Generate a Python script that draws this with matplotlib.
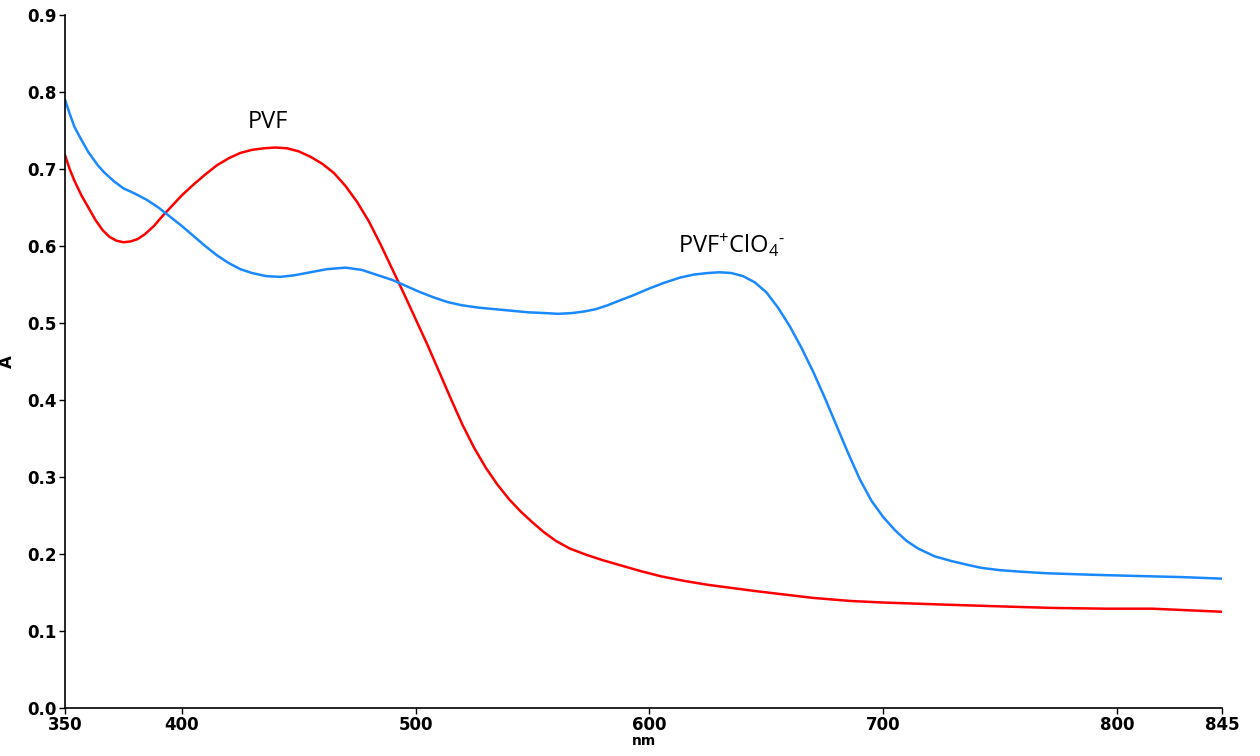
import matplotlib
matplotlib.use("Agg")
import matplotlib.pyplot as plt

plt.rcParams["mathtext.fontset"] = "custom"
plt.rcParams["mathtext.rm"] = "Open Sans"
plt.rcParams["mathtext.it"] = "Open Sans"

# absorbance spectra, wavelength in nm
pvf_nm = [350, 352, 354, 357, 360, 363, 366, 369, 372, 375, 378, 381, 384, 388,
          392, 396, 400, 405, 410, 415, 420, 425, 430, 435, 440, 445, 450, 455,
          460, 465, 470, 475, 480, 485, 490, 495, 500, 505, 510, 515, 520, 525,
          530, 535, 540, 545, 550, 555, 560, 566, 573, 580, 588, 596, 605, 615,
          625, 635, 645, 656, 670, 686, 700, 729, 750, 772, 795, 815, 830, 845]
pvf_a = [0.718, 0.700, 0.685, 0.666, 0.650, 0.634, 0.621, 0.612, 0.607, 0.605,
         0.606, 0.609, 0.615, 0.626, 0.640, 0.653, 0.666, 0.680, 0.693, 0.705,
         0.714, 0.721, 0.725, 0.727, 0.728, 0.727, 0.723, 0.716, 0.707, 0.695,
         0.678, 0.657, 0.632, 0.602, 0.570, 0.538, 0.505, 0.472, 0.437, 0.402,
         0.368, 0.338, 0.312, 0.290, 0.271, 0.255, 0.241, 0.228, 0.217, 0.207,
         0.199, 0.192, 0.185, 0.178, 0.171, 0.165, 0.160, 0.156, 0.152, 0.148,
         0.143, 0.139, 0.137, 0.134, 0.132, 0.130, 0.129, 0.129, 0.127, 0.125]

pvf_ox_nm = [350, 352, 354, 357, 360, 364, 367, 371, 375, 380, 385, 390, 395,
             400, 405, 410, 415, 420, 425, 430, 436, 442, 448, 455, 462, 470,
             477, 484, 490, 496, 502, 508, 514, 520, 527, 534, 541, 548, 555,
             561, 567, 572, 577, 582, 587, 593, 600, 606, 613, 619, 625, 630,
             635, 640, 645, 650, 655, 660, 665, 670, 675, 680, 685, 690, 695,
             700, 705, 710, 715, 722, 729, 736, 742, 750, 759, 770, 780, 790,
             802, 815, 828, 845]
pvf_ox_a = [0.790, 0.772, 0.755, 0.738, 0.722, 0.705, 0.695, 0.684, 0.675, 0.668,
            0.660, 0.650, 0.638, 0.626, 0.613, 0.600, 0.588, 0.578, 0.570, 0.565,
            0.561, 0.560, 0.562, 0.566, 0.570, 0.572, 0.569, 0.562, 0.556, 0.548,
            0.540, 0.533, 0.527, 0.523, 0.520, 0.518, 0.516, 0.514, 0.513, 0.512,
            0.513, 0.515, 0.518, 0.523, 0.529, 0.536, 0.545, 0.552, 0.559, 0.563,
            0.565, 0.566, 0.565, 0.561, 0.553, 0.540, 0.520, 0.496, 0.468, 0.437,
            0.403, 0.367, 0.331, 0.297, 0.269, 0.248, 0.231, 0.217, 0.207, 0.197,
            0.191, 0.186, 0.182, 0.179, 0.177, 0.175, 0.174, 0.173, 0.172, 0.171,
            0.170, 0.168]

x_ticks = [350, 400, 500, 600, 700, 800, 845]
y_ticks = [0.0, 0.1, 0.2, 0.3, 0.4, 0.5, 0.6, 0.7, 0.8, 0.9]

fig = plt.figure(figsize=(12.6, 7.56), dpi=100)
ax = fig.add_axes([0.0516, 0.0635, 0.9184, 0.9165])

ax.plot(pvf_nm, pvf_a, color="#ff0000", lw=1.8)
ax.plot(pvf_ox_nm, pvf_ox_a, color="#1a88ff", lw=1.8)

ax.set_xlim(350, 845)
ax.set_ylim(0, 0.9)
ax.set_xticks(x_ticks)
ax.set_xticklabels([str(t) for t in x_ticks])
ax.set_yticks(y_ticks)
ax.set_yticklabels([f"{t:.1f}" for t in y_ticks])

for s in ["top", "right"]:
    ax.spines[s].set_visible(False)
for s in ["left", "bottom"]:
    ax.spines[s].set_linewidth(1.2)

ax.tick_params(direction="out", length=4, width=1, pad=2)
for lab in ax.get_xticklabels() + ax.get_yticklabels():
    lab.set_fontsize(12)
    lab.set_fontweight("bold")

ax.set_xlabel("nm", fontsize=10, fontweight="bold", labelpad=0)
ax.set_ylabel("A", fontsize=12, fontweight="bold", labelpad=8)

ax.text(437, 0.761, "PVF", fontsize=17, family="Open Sans",
        ha="center", va="center")
ax.text(635, 0.601, r"PVF$^{+}$ClO$_{4}$$^{\text{-}}$", fontsize=17,
        family="Open Sans", ha="center", va="center")

fig.savefig("out.png", dpi=100)
